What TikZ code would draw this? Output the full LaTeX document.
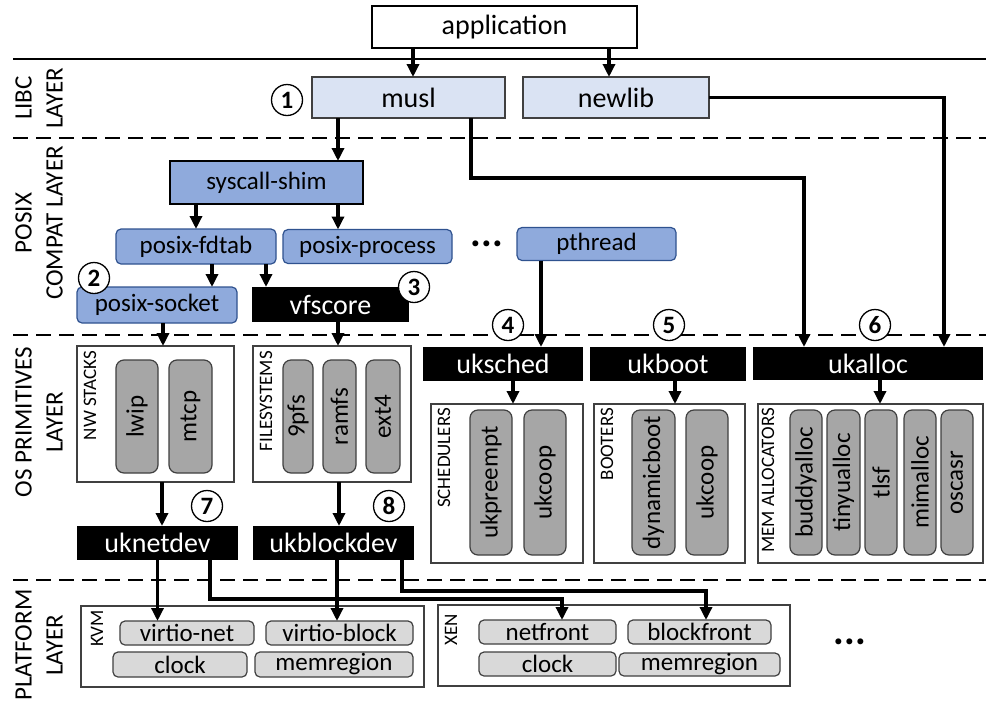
\documentclass[tikz,border=0pt]{standalone}
\usepackage{fontspec}
\setmainfont{Carlito}
\usetikzlibrary{arrows.meta,calc}
\definecolor{libcfill}{HTML}{DAE3F3}
\definecolor{posixfill}{HTML}{8FAADC}
\definecolor{posixdraw}{HTML}{2F528F}
\definecolor{grayfill}{HTML}{A6A6A6}
\definecolor{platfill}{HTML}{D9D9D9}
\definecolor{edgegray}{HTML}{404040}
\newcommand\FBig{\fontsize{28}{33}\selectfont}
\newcommand\FMid{\fontsize{25}{30}\selectfont}
\newcommand\FSmall{\fontsize{19}{23}\selectfont}
\newcommand\FNum{\fontsize{25}{28}\selectfont\bfseries}
\newcommand\FLayer{\fontsize{25}{31}\selectfont}
\begin{document}
\begin{tikzpicture}[x=1pt,y=-1pt,
 every node/.style={inner sep=0pt, outer sep=0pt},
 arr/.style={line width=3.5pt, -{Triangle[length=13pt,width=12pt]}},
 appbox/.style={draw=black, line width=1.5pt, fill=white, font=\FBig},
 libcbox/.style={draw=edgegray, line width=1.2pt, fill=libcfill, font=\FBig},
 shimbox/.style={draw=black, line width=1.2pt, fill=posixfill, font=\FMid},
 posixbox/.style={draw=posixdraw, line width=1.2pt, fill=posixfill, rounded corners=5pt, font=\FMid},
 blackbox/.style={fill=black, text=white, font=\FBig},
 catbox/.style={draw=edgegray, line width=1.2pt, fill=white},
 catlabel/.style={rotate=90, anchor=east, font=\FSmall},
 libbox/.style={draw=edgegray, line width=1.2pt, fill=grayfill, rounded corners=8pt, rotate=90, font=\FMid},
 platbox/.style={draw=edgegray, line width=1.2pt, fill=platfill, rounded corners=5pt, font=\FMid},
 num/.style={circle, draw, line width=1.3pt, fill=white, minimum size=31pt, font=\FNum},
 layerlabel/.style={rotate=90, align=center, font=\FLayer},
 sep/.style={line width=2pt, dash pattern=on 15pt off 8pt},
 dots/.style={font=\fontsize{40}{44}\selectfont\bfseries},
]
\useasboundingbox (0,0) rectangle (988,713);

% layer separators
\draw[line width=2pt] (13,59) -- (986,59);
\draw[sep] (13,138) -- (986,138);
\draw[sep] (13,335) -- (986,335);
\draw[sep] (13,580) -- (986,580);

% layer labels
\node[layerlabel] (lLibc) at (39,98) {LIBC\\LAYER};
\node[layerlabel] (lPosix) at (39,223) {POSIX\\COMPAT LAYER};
\node[layerlabel] (lOs) at (39,422) {OS PRIMITIVES\\LAYER};
\node[layerlabel] (lPlat) at (39,645) {PLATFORM\\LAYER};

% top
\node[appbox, minimum width=265pt, minimum height=42pt] (app) at (504.5,27) {application};
\node[libcbox, minimum width=193pt, minimum height=41pt] (musl) at (408.5,97.5) {musl};
\node[libcbox, minimum width=186pt, minimum height=41pt] (newlib) at (616,97.5) {newlib};
\node[num] (c1) at (287,100) {1};

% posix
\node[shimbox, minimum width=193pt, minimum height=43pt] (shim) at (266.5,182.5) {syscall-shim};
\node[posixbox, minimum width=160pt, minimum height=35pt] (fdtab) at (196,246.5) {posix-fdtab};
\node[posixbox, minimum width=169pt, minimum height=34pt] (process) at (367.5,246.5) {posix-process};
\node[posixbox, minimum width=160pt, minimum height=36pt] (socket) at (157,305) {posix-socket};
\node[blackbox, minimum width=157pt, minimum height=35pt] (vfscore) at (330.5,304.5) {vfscore};
\node[posixbox, minimum width=159pt, minimum height=33pt] (pthread) at (596.5,244) {pthread};
\node[dots] (dots1) at (487,244) {...};
\node[num] (c2) at (94,278) {2};
\node[num] (c3) at (414,287) {3};

% OS primitives
\node[num] (c4) at (508,325) {4};
\node[num] (c5) at (669,325) {5};
\node[num] (c6) at (875,325) {6};
\node[blackbox, minimum width=160pt, minimum height=34pt] (uksched) at (503,364) {uksched};
\node[blackbox, minimum width=156pt, minimum height=34pt] (ukboot) at (668,364) {ukboot};
\node[blackbox, minimum width=230pt, minimum height=33pt] (ukalloc) at (868,363.5) {ukalloc};

\node[catbox, minimum width=157pt, minimum height=136pt] (nwbox) at (155.5,414) {};
\node[catlabel] (nwlab) at (90,351) {NW STACKS};
\node[libbox, minimum width=113pt, minimum height=42pt] (lwip) at (137,416.5) {lwip};
\node[libbox, minimum width=113pt, minimum height=43pt] (mtcp) at (190.5,416.5) {mtcp};

\node[catbox, minimum width=158pt, minimum height=136pt] (fsbox) at (332,414) {};
\node[catlabel] (fslab) at (266,351) {FILESYSTEMS};
\node[libbox, minimum width=113pt, minimum height=30pt] (ninepfs) at (298,416.5) {9pfs};
\node[libbox, minimum width=113pt, minimum height=33pt] (ramfs) at (339.5,416.5) {ramfs};
\node[libbox, minimum width=113pt, minimum height=34pt] (ext4) at (383,416.5) {ext4};

\node[catbox, minimum width=152pt, minimum height=159pt] (schedbox) at (507,483.5) {};
\node[catlabel] (schedlab) at (444,408) {SCHEDULERS};
\node[libbox, minimum width=145pt, minimum height=42pt] (ukpreempt) at (491,482.5) {ukpreempt};
\node[libbox, minimum width=145pt, minimum height=42pt] (ukcoopA) at (545,482.5) {ukcoop};

\node[catbox, minimum width=151pt, minimum height=159pt] (bootbox) at (669.5,483.5) {};
\node[catlabel] (bootlab) at (607,408) {BOOTERS};
\node[libbox, minimum width=145pt, minimum height=43pt] (dynboot) at (653.5,482.5) {dynamicboot};
\node[libbox, minimum width=145pt, minimum height=42pt] (ukcoopB) at (707,482.5) {ukcoop};

\node[catbox, minimum width=225pt, minimum height=159pt] (membox) at (870.5,483.5) {};
\node[catlabel] (memlab) at (768,408) {MEM ALLOCATORS};
\node[libbox, minimum width=145pt, minimum height=32pt] (buddy) at (806,482.5) {buddyalloc};
\node[libbox, minimum width=145pt, minimum height=33pt] (tiny) at (843.5,482.5) {tinyualloc};
\node[libbox, minimum width=145pt, minimum height=32pt] (tlsf) at (881,482.5) {tlsf};
\node[libbox, minimum width=145pt, minimum height=32pt] (mimalloc) at (920,482.5) {mimalloc};
\node[libbox, minimum width=145pt, minimum height=32pt] (oscasr) at (957,482.5) {oscasr};

\node[num] (c7) at (207,506) {7};
\node[num] (c8) at (389,506) {8};
\node[blackbox, minimum width=161pt, minimum height=34pt] (uknetdev) at (157.5,543) {uknetdev};
\node[blackbox, minimum width=161pt, minimum height=34pt] (ukblockdev) at (333.5,543) {ukblockdev};

% platform
\node[catbox, minimum width=343pt, minimum height=81pt] (kvmbox) at (252.5,646.5) {};
\node[catlabel] (kvmlab) at (97,610) {KVM};
\node[platbox, minimum width=134pt, minimum height=24pt] (virtionet) at (187,633) {virtio-net};
\node[platbox, minimum width=147pt, minimum height=24pt] (virtioblock) at (339.5,633) {virtio-block};
\node[platbox, minimum width=134pt, minimum height=25pt] (clockA) at (180,664.5) {clock};
\node[platbox, minimum width=158pt, minimum height=25pt] (memregA) at (334,664.5) {memregion};

\node[catbox, minimum width=352pt, minimum height=81pt] (xenbox) at (614,645.5) {};
\node[catlabel] (xenlab) at (451,614) {XEN};
\node[platbox, minimum width=137pt, minimum height=24pt] (netfront) at (547.5,632) {netfront};
\node[platbox, minimum width=143pt, minimum height=24pt] (blockfront) at (699.5,632) {blockfront};
\node[platbox, minimum width=137pt, minimum height=24pt] (clockB) at (547.5,664) {clock};
\node[platbox, minimum width=161pt, minimum height=23pt] (memregB) at (699.5,664.5) {memregion};
\node[dots] (dots2) at (850,642) {...};

% connectors
\draw[arr] ([xshift=4.5pt]musl.north |- app.south) -- ([xshift=4.5pt]musl.north);
\draw[arr] ([xshift=-7pt]newlib.north |- app.south) -- ([xshift=-7pt]newlib.north);
\draw[arr] ([xshift=71.5pt]shim.north |- musl.south) -- ([xshift=71.5pt]shim.north);
\draw[arr] ([xshift=62.5pt]musl.south) -- ++(0,60) -| ([xshift=-64pt]ukalloc.north);
\draw[arr] (newlib.east) -| ([xshift=76pt]ukalloc.north);
\draw[arr] (shim.south -| fdtab.north) -- (fdtab.north);
\draw[arr] ([xshift=-29.5pt]process.north |- shim.south) -- ([xshift=-29.5pt]process.north);
\draw[arr] ([xshift=55pt]socket.north |- fdtab.south) -- ([xshift=55pt]socket.north);
\draw[arr] ([xshift=-64.5pt]vfscore.north |- fdtab.south) -- ([xshift=-64.5pt]vfscore.north);
\draw[arr] ([xshift=6pt]socket.south) -- ([xshift=6pt]socket.south |- nwbox.north);
\draw[arr] ([xshift=7.5pt]vfscore.south) -- ([xshift=7.5pt]vfscore.south |- fsbox.north);
\draw[arr] ([xshift=-55.5pt]pthread.south) -- ([xshift=-55.5pt]pthread.south |- uksched.north);
\draw[arr] ([xshift=10pt]uksched.south) -- ([xshift=10pt]uksched.south |- schedbox.north);
\draw[arr] ([xshift=7pt]ukboot.south) -- ([xshift=7pt]ukboot.south |- bootbox.north);
\draw[arr] ([xshift=12pt]ukalloc.south) -- ([xshift=12pt]ukalloc.south |- membox.north);
\draw[arr] ([xshift=6.5pt]nwbox.south) -- ([xshift=6.5pt]nwbox.south |- uknetdev.north);
\draw[arr] ([xshift=7pt]fsbox.south) -- ([xshift=7pt]fsbox.south |- ukblockdev.north);
\draw[arr] (uknetdev.south) -- (uknetdev.south |- virtionet.north);
\draw[arr] ([xshift=3.5pt]ukblockdev.south) -- ([xshift=3.5pt]ukblockdev.south |- virtioblock.north);
\draw[arr] ([xshift=52.5pt]uknetdev.south) -- ++(0,39) -| ([xshift=14.5pt]netfront.north);
\draw[arr] ([xshift=68.5pt]ukblockdev.south) -- ++(0,31) -| ([xshift=6.5pt]blockfront.north);
\end{tikzpicture}
\end{document}
